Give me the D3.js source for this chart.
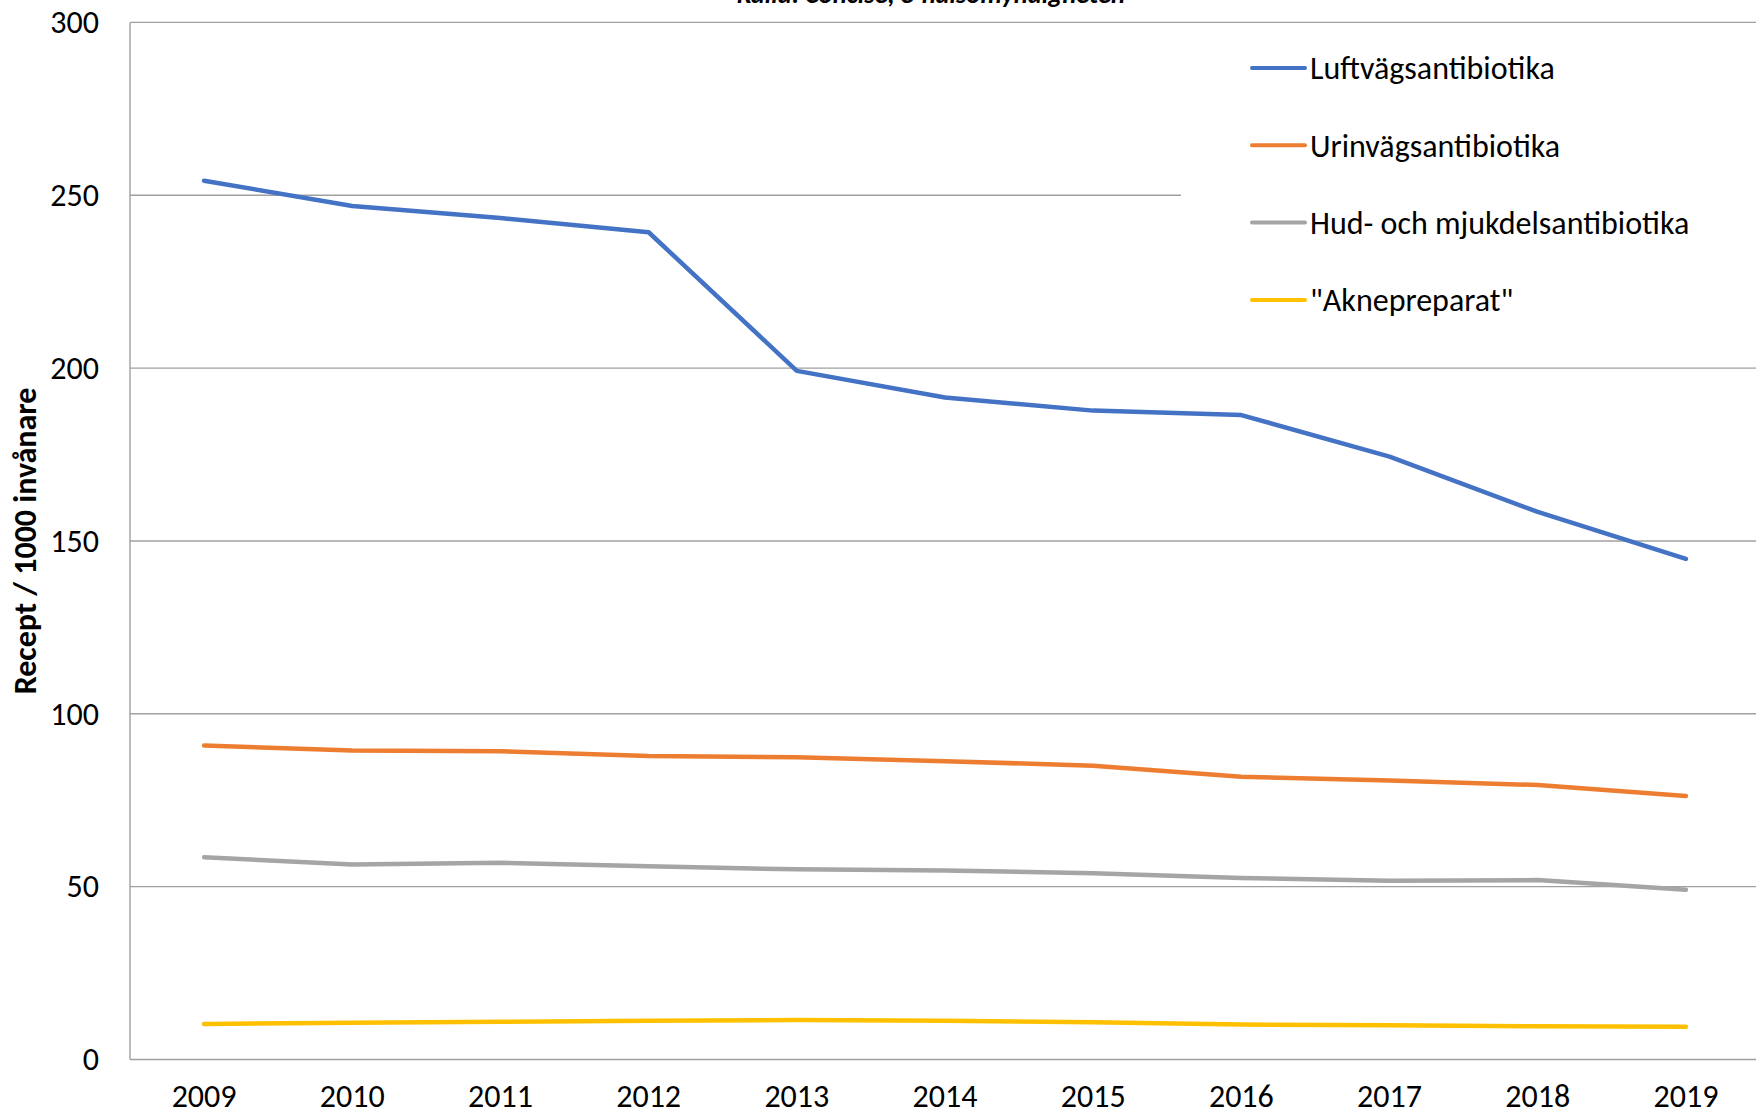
<!DOCTYPE html>
<html lang="sv">
<head>
  <meta charset="UTF-8">
  <title>Recept / 1000 invånare</title>
  <style>
    body { margin: 0; background: #fff; }
    svg text { font-family: Carlito, Lato, "Open Sans", sans-serif; fill: #000; }
    .tick text { font-size: 32px; }
    .grid line { stroke: #a0a0a0; stroke-width: 1.4; }
    .series { fill: none; stroke-width: 4.5; stroke-linejoin: round; stroke-linecap: round; }
    .legend-text { font-size: 32px; }
  </style>
</head>
<body>
  <div id="chart"></div>
  <script src="https://d3js.org/d3.v7.min.js"></script>
  <script>
    const years = ["2009", "2010", "2011", "2012", "2013", "2014", "2015", "2016", "2017", "2018", "2019"];
    const seriesNames = ["Luftvägsantibiotika", "Urinvägsantibiotika", "Hud- och mjukdelsantibiotika", "\"Aknepreparat\""];
    const luftvag = [254.2, 246.9, 243.4, 239.3, 199.2, 191.5, 187.7, 186.4, 174.4, 158.4, 144.8];
    const urinvag = [90.8, 89.4, 89.2, 87.8, 87.4, 86.3, 85.0, 81.8, 80.7, 79.4, 76.2];
    const hud = [58.5, 56.4, 56.9, 55.9, 55.0, 54.7, 53.9, 52.5, 51.7, 51.9, 49.1];
    const akne = [10.3, 10.6, 10.9, 11.2, 11.4, 11.2, 10.8, 10.1, 9.9, 9.6, 9.5];
    const colors = ["#4472C4", "#ED7D31", "#A5A5A5", "#FFC000"];
    const yTicks = [0, 50, 100, 150, 200, 250, 300];

    const allSeries = [luftvag, urinvag, hud, akne];

    const width = 1756;
    const height = 1115;
    const plot = { left: 130, right: 1760, top: 22.4, bottom: 1059.5 };

    const svg = d3.select('#chart')
      .append('svg')
      .attr('width', width)
      .attr('height', height);

    const x = d3.scaleBand()
      .domain(years)
      .range([plot.left, plot.right])
      .padding(0);

    const y = d3.scaleLinear()
      .domain([0, 300])
      .range([plot.bottom, plot.top]);

    // gridlines
    svg.append('g')
      .attr('class', 'grid')
      .selectAll('line')
      .data(yTicks)
      .enter()
      .append('line')
      .attr('x1', plot.left)
      .attr('x2', plot.right)
      .attr('y1', d => y(d))
      .attr('y2', d => y(d));

    // left axis line
    svg.append('line')
      .attr('x1', plot.left).attr('x2', plot.left)
      .attr('y1', plot.top).attr('y2', plot.bottom)
      .attr('stroke', '#a0a0a0').attr('stroke-width', 1.4);

    // y axis labels
    const yAxis = svg.append('g')
      .attr('transform', `translate(${plot.left}, 0)`)
      .call(d3.axisLeft(y).tickValues(yTicks).tickSize(0).tickPadding(31));
    yAxis.select('.domain').remove();

    // x axis labels
    const xAxis = svg.append('g')
      .attr('transform', `translate(0, ${plot.bottom})`)
      .call(d3.axisBottom(x).tickSize(0).tickPadding(25));
    xAxis.select('.domain').remove();

    // legend background hides the gridline behind it
    svg.append('rect')
      .attr('x', 1181)
      .attr('y', 30)
      .attr('width', width - 1181)
      .attr('height', 310)
      .attr('fill', '#fff');

    const line = d3.line()
      .x((d, i) => x(years[i]) + x.bandwidth() / 2)
      .y(d => y(d));

    svg.selectAll('.series')
      .data(allSeries)
      .enter()
      .append('path')
      .attr('class', 'series')
      .attr('stroke', (d, i) => colors[i])
      .attr('d', line);

    // legend
    const legend = svg.append('g')
      .selectAll('g')
      .data(seriesNames)
      .enter()
      .append('g')
      .attr('transform', (d, i) => `translate(1252, ${68 + i * 77.3})`);

    legend.append('line')
      .attr('x1', 0).attr('x2', 53)
      .attr('y1', 0).attr('y2', 0)
      .attr('stroke', (d, i) => colors[i])
      .attr('stroke-width', 4)
      .attr('stroke-linecap', 'round');

    legend.append('text')
      .attr('class', 'legend-text')
      .attr('x', 58)
      .attr('dy', '0.35em')
      .text(d => d);

    // y axis title
    svg.append('text')
      .attr('transform', `translate(36, ${(plot.top + plot.bottom) / 2}) rotate(-90)`)
      .attr('text-anchor', 'middle')
      .style('font-size', '32px')
      .style('font-weight', 'bold')
      .text('Recept / 1000 invånare');

    // source line, only its lower part is inside the picture
    svg.append('text')
      .attr('x', 931)
      .attr('y', 3)
      .attr('text-anchor', 'middle')
      .style('font-size', '26.5px')
      .style('font-weight', 'bold')
      .style('font-style', 'italic')
      .text('Källa: Concise, e-hälsomyndigheten');
  </script>
</body>
</html>
